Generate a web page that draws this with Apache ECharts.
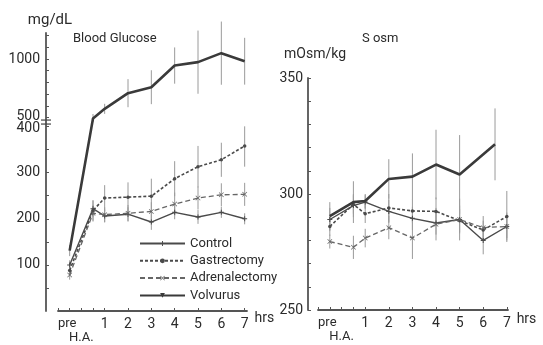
<!DOCTYPE html>
<html>
<head>
<meta charset="utf-8">
<script src="https://cdn.jsdelivr.net/npm/echarts@6/dist/echarts.min.js"></script>
<style>
  html, body { margin: 0; padding: 0; background: #fff; }
  #chart { width: 543px; height: 345px; }
</style>
</head>
<body>
<div id="chart"></div>
<script>
// hours after H.A. (pre = -0.5)
const hours = [-0.5, 0.5, 1, 2, 3, 4, 5, 6, 7];
const volvOsmHours = [-0.5, 0.5, 1, 2, 3, 4, 5, 6.5];
const seriesNames = ["Control", "Gastrectomy", "Adrenalectomy", "Volvurus"];

// Blood glucose, mg/dL (mean, SD)
const bgControl = [100, 222, 206, 210, 193, 214, 204, 214, 200];
const bgGastrectomy = [88, 218, 245, 247, 249, 287, 313, 328, 358];
const bgAdrenalectomy = [78, 212, 209, 212, 216, 232, 245, 252, 253];
const bgVolvurus = [131, 490, 574, 708, 759, 944, 973, 1050, 981];
const bgControlSd = [10, 18, 14, 15, 17, 15, 15, 12, 12];
const bgGastrectomySd = [12, 22, 28, 32, 38, 38, 45, 37, 45];
const bgAdrenalectomySd = [10, 18, 16, 18, 20, 25, 25, 25, 25];
const bgVolvurusSd = [12, 40, 43, 120, 145, 155, 270, 270, 200];

// Serum osmolality, mOsm/kg (mean, SD)
const osmControl = [289, 295, 296.5, 292.5, 289.5, 287.5, 289, 280, 286];
const osmGastrectomy = [286, 295.5, 291.5, 294, 292.7, 292.5, 288.5, 284.5, 290.3];
const osmAdrenalectomy = [279.5, 277, 281, 285.5, 281, 287, 289, 285.5, 286];
const osmVolvurus = [290.5, 296.5, 297, 306.5, 307.5, 312.7, 308.4, 321.4];
const osmControlSd = [5, 5, 3, 5, 5, 5, 6, 6, 6];
const osmGastrectomySd = [4, 4, 4, 6, 5, 6, 5, 4, 11];
const osmAdrenalectomySd = [3, 5, 4, 5, 9, 7, 9, 5, 5];
const osmVolvurusSd = [6, 9, 3, 8.5, 10, 15, 17, 15.5];

const bgTickLabels = [100, 200, 300, 400, 500, 1000];
const bgTicks = [50, 100, 150, 200, 250, 300, 350, 400, 500, 600, 700, 800, 900, 1000, 1100, 1200];
const hourTicks = [-1, -0.5, 0, 0.5, 1, 2, 3, 4, 5, 6, 7];
const hourLabels = [-0.5, 0, 1, 2, 3, 4, 5, 6, 7];

// broken glucose axis: 0-400 linear, gap, 500+ compressed
const UP0 = 419.7, UPK = 0.2538;
function brk(v) {
  if (v <= 400) return v;
  if (v >= 500) return UP0 + (v - 500) * UPK;
  return 400 + (v - 400) * (UP0 - 400) / 100;
}
function unbrk(t) {
  if (t <= 400) return t;
  return 500 + (t - UP0) / UPK;
}

const FONT = "Roboto, 'Liberation Sans', sans-serif";
const INK = "#2b2b2b";

function pairs(xs, ys, f) {
  return xs.map((x, i) => [x, f ? f(ys[i]) : ys[i]]);
}
function bars(xs, ys, sds, f) {
  f = f || (v => v);
  return xs.map((x, i) => [x, f(ys[i] - sds[i]), f(ys[i] + sds[i])]);
}

const styles = {
  Control: { color: "#4a4a4a", width: 1.4, type: "solid", symbol: "path://M4,0H6V4H10V6H6V10H4V6H0V4H4Z", size: 5, show: true },
  Gastrectomy: { color: "#4a4a4a", width: 1.6, type: [3, 2], symbol: "circle", size: 3.5, show: true },
  Adrenalectomy: { color: "#666", width: 1.3, type: [5, 3], symbol: "path://M0,1L1,0L5,4L9,0L10,1L6,5L10,9L9,10L5,6L1,10L0,9L4,5Z", size: 5, show: true },
  Volvurus: { color: "#3a3a3a", width: 2.6, type: "solid", symbol: "triangle", size: 4, show: false }
};

function lineSeries(name, data, idx) {
  const s = styles[name];
  return {
    name: name,
    type: "line",
    xAxisIndex: idx,
    yAxisIndex: idx,
    data: data,
    symbol: s.symbol,
    symbolSize: s.size,
    symbolRotate: name === "Volvurus" ? 180 : 0,
    showSymbol: s.show,
    itemStyle: { color: s.color },
    lineStyle: { color: s.color, width: s.width, type: s.type },
    animation: false,
    z: name === "Volvurus" ? 4 : 3
  };
}

function errSeries(data, idx) {
  return {
    type: "custom",
    xAxisIndex: idx,
    yAxisIndex: idx,
    data: data,
    encode: { x: 0, y: [1, 2] },
    silent: true,
    animation: false,
    z: 1,
    renderItem: function (params, api) {
      const a = api.coord([api.value(0), api.value(1)]);
      const b = api.coord([api.value(0), api.value(2)]);
      return {
        type: "line",
        shape: { x1: a[0], y1: a[1], x2: b[0], y2: b[1] },
        style: { stroke: "#9a9a9a", lineWidth: 1 }
      };
    }
  };
}

const bgErr = [].concat(
  bars(hours, bgControl, bgControlSd, brk),
  bars(hours, bgGastrectomy, bgGastrectomySd, brk),
  bars(hours, bgAdrenalectomy, bgAdrenalectomySd, brk),
  bars(hours, bgVolvurus, bgVolvurusSd, brk)
);
const osmErr = [].concat(
  bars(hours, osmControl, osmControlSd),
  bars(hours, osmGastrectomy, osmGastrectomySd),
  bars(hours, osmAdrenalectomy, osmAdrenalectomySd),
  bars(volvOsmHours, osmVolvurus, osmVolvurusSd)
);

function xAxisFor(idx) {
  return {
    type: "value",
    gridIndex: idx,
    min: -1,
    max: idx === 0 ? 7.1 : 7.05,
    name: "hrs",
    nameLocation: "end",
    nameGap: idx === 0 ? 6 : 5,
    nameTextStyle: { fontFamily: FONT, fontSize: 14, color: INK, verticalAlign: "top", padding: [idx === 0 ? 0 : 2, 0, 0, 0] },
    splitLine: { show: false },
    axisLine: { onZero: false, lineStyle: { color: "#555", width: 1.8 } },
    axisTick: { customValues: hourTicks, inside: true, length: 3, lineStyle: { color: "#555" } },
    axisLabel: {
      customValues: hourLabels,
      hideOverlap: false,
      fontFamily: FONT,
      fontSize: 14,
      color: INK,
      margin: 6,
      formatter: function (v) {
        if (v < 0) return "{s|pre}";
        if (v === 0) return "{h|H.A.}";
        return String(v);
      },
      rich: {
        s: { fontFamily: FONT, fontSize: 13, color: INK, padding: [0, 5, 2, 0] },
        h: { fontFamily: FONT, fontSize: 13, color: INK, padding: [14, 0, 0, 0] }
      }
    }
  };
}

const option = {
  backgroundColor: "#fff",
  animation: false,
  textStyle: { fontFamily: FONT },
  title: [
    { text: "Blood Glucose", left: 68, top: 27, textStyle: { fontFamily: FONT, fontSize: 13, fontWeight: "normal", color: INK } },
    { text: "S osm", left: 357, top: 27, textStyle: { fontFamily: FONT, fontSize: 13, fontWeight: "normal", color: INK } }
  ],
  legend: {
    data: seriesNames,
    orient: "vertical",
    left: 134,
    top: 232,
    itemWidth: 45,
    itemHeight: 6,
    itemGap: 4.3,
    textStyle: { fontFamily: FONT, fontSize: 13, color: INK },
    selectedMode: false
  },
  grid: [
    { left: 58, top: 33, width: 189, height: 278, outerBoundsMode: "none" },
    { left: 318, top: 78, width: 190, height: 232, outerBoundsMode: "none" }
  ],
  xAxis: [xAxisFor(0), xAxisFor(1)],
  yAxis: [
    {
      type: "value",
      gridIndex: 0,
      min: 0,
      max: 603,
      offset: 12,
      name: "mg/dL",
      nameLocation: "end",
      nameGap: 5,
      nameTextStyle: { fontFamily: FONT, fontSize: 15, color: INK, align: "center", padding: [0, 0, 0, 8] },
      splitLine: { show: false },
      axisLine: { show: true, onZero: false, lineStyle: { color: "#555", width: 1.8 } },
      axisTick: { show: true, customValues: bgTicks.map(brk), inside: true, length: 3, lineStyle: { color: "#555" } },
      axisLabel: {
        customValues: bgTickLabels.map(brk),
        hideOverlap: false,
        fontFamily: FONT,
        fontSize: 14,
        color: INK,
        margin: 6,
        formatter: function (t) {
          const v = Math.round(unbrk(t) / 10) * 10;
          if (v === 500) return "{up|500}";
          if (v === 400) return "{dn|400}";
          return String(v);
        },
        rich: {
          up: { fontFamily: FONT, fontSize: 14, color: INK, padding: [0, 0, 3, 0] },
          dn: { fontFamily: FONT, fontSize: 14, color: INK, padding: [3, 0, 0, 0] }
        }
      }
    },
    {
      type: "value",
      gridIndex: 1,
      min: 250,
      max: 350,
      interval: 10,
      offset: 10,
      name: "mOsm/kg",
      nameLocation: "end",
      nameGap: 17,
      nameTextStyle: { fontFamily: FONT, fontSize: 14, color: INK, align: "center", padding: [0, 0, 0, 14] },
      splitLine: { show: false },
      axisLine: { show: true, onZero: false, lineStyle: { color: "#555", width: 1.8 } },
      axisTick: { show: true, inside: true, length: 3, lineStyle: { color: "#555" } },
      axisLabel: {
        fontFamily: FONT,
        fontSize: 14,
        color: INK,
        margin: 5,
        formatter: function (v) { return v % 50 === 0 ? String(v) : ""; }
      }
    }
  ],
  series: [
    errSeries(bgErr, 0),
    lineSeries("Control", pairs(hours, bgControl, brk), 0),
    lineSeries("Gastrectomy", pairs(hours, bgGastrectomy, brk), 0),
    lineSeries("Adrenalectomy", pairs(hours, bgAdrenalectomy, brk), 0),
    lineSeries("Volvurus", pairs(hours, bgVolvurus, brk), 0),
    {
      // break mark on the glucose axis
      type: "custom",
      xAxisIndex: 0,
      yAxisIndex: 0,
      data: [[-1, brk(450)]],
      silent: true,
      animation: false,
      z: 5,
      renderItem: function (params, api) {
        const p = api.coord([api.value(0), api.value(1)]);
        const x = p[0] - 12;
        return {
          type: "group",
          children: [
            { type: "line", shape: { x1: x - 5, y1: p[1] - 2, x2: x + 5, y2: p[1] - 2 }, style: { stroke: "#444", lineWidth: 1.2 } },
            { type: "line", shape: { x1: x - 5, y1: p[1] + 2, x2: x + 5, y2: p[1] + 2 }, style: { stroke: "#444", lineWidth: 1.2 } }
          ]
        };
      }
    },
    errSeries(osmErr, 1),
    lineSeries("Control", pairs(hours, osmControl), 1),
    lineSeries("Gastrectomy", pairs(hours, osmGastrectomy), 1),
    lineSeries("Adrenalectomy", pairs(hours, osmAdrenalectomy), 1),
    lineSeries("Volvurus", pairs(volvOsmHours, osmVolvurus), 1)
  ]
};

const chart = echarts.init(document.getElementById("chart"), null, { renderer: "canvas" });
chart.setOption(option);
</script>
</body>
</html>
